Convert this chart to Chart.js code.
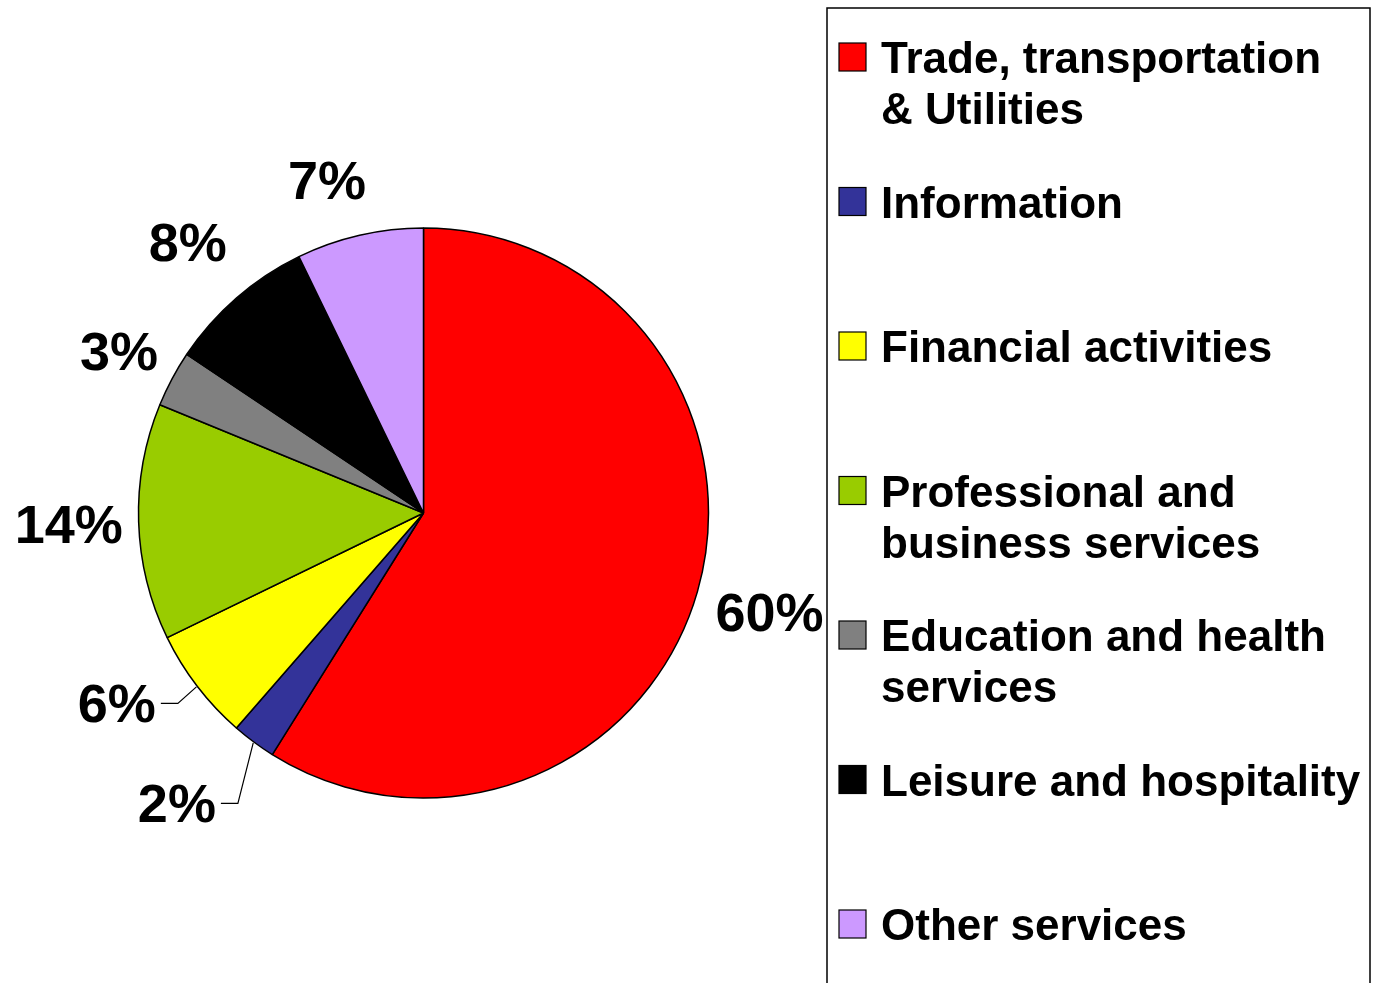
<!DOCTYPE html>
<html>
<head>
<meta charset="utf-8">
<script src="https://cdn.jsdelivr.net/npm/chart.js@4/dist/chart.umd.min.js"></script>
<style>
  html, body { margin: 0; padding: 0; background: #fff; }
  #wrap { width: 1378px; height: 983px; position: relative; }
</style>
</head>
<body>
<div id="wrap"><canvas id="pie"></canvas></div>
<script>
// Data (share of each sector, clockwise from 12 o'clock)
const categories = [
    ['Trade, transportation', '& Utilities'],
    'Information',
    'Financial activities',
    ['Professional and', 'business services'],
    ['Education and health', 'services'],
    'Leisure and hospitality',
    'Other services'
];
const shares = [58.9, 2.5, 6.4, 13.4, 3.2, 8.4, 7.2];
const pctLabels = ['60%', '2%', '6%', '14%', '3%', '8%', '7%'];
const colors = ['#FF0000', '#333399', '#FFFF00', '#99CC00', '#808080', '#000000', '#CC99FF'];

const FONT = '"Liberation Sans", Arial, sans-serif';

// where each percentage sits: angle shift (deg) and distance past the rim
const labelLayout = [
    { gap: 75 },
    { shift: 3.8, gap: 96, leader: true },
    { shift: 5.6, gap: 76, leader: true },
    { gap: 70 },
    { gap: 60 },
    { gap: 74 },
    { shift: -3.2, gap: 62 }
];

// Percent labels + leader lines
const pctPlugin = {
    id: 'pctLabels',
    afterDatasetsDraw(chart) {
        const ctx = chart.ctx;
        const meta = chart.getDatasetMeta(0);
        ctx.save();
        ctx.font = 'bold 54px ' + FONT;
        ctx.fillStyle = '#000';
        ctx.textAlign = 'center';
        ctx.textBaseline = 'alphabetic';
        meta.data.forEach((arc, i) => {
            const p = arc.getProps(['x', 'y', 'startAngle', 'endAngle', 'outerRadius'], true);
            const mid = (p.startAngle + p.endAngle) / 2;
            const lay = labelLayout[i] || {};
            const a = mid + (lay.shift || 0) * Math.PI / 180;
            const r = p.outerRadius + (lay.gap || 70);
            const lx = p.x + Math.cos(a) * r;
            const ly = p.y + Math.sin(a) * r;
            ctx.fillText(pctLabels[i], lx, ly + 19);

            if (lay.leader) {
                const w = ctx.measureText(pctLabels[i]).width;
                const sx = lx + w / 2 + 5;
                const ex = p.x + Math.cos(mid) * (p.outerRadius + 1);
                const ey = p.y + Math.sin(mid) * (p.outerRadius + 1);
                ctx.beginPath();
                ctx.strokeStyle = '#000';
                ctx.lineWidth = 1.2;
                ctx.moveTo(sx, ly);
                ctx.lineTo(sx + 17, ly);
                ctx.lineTo(ex, ey);
                ctx.stroke();
            }
        });
        ctx.restore();
    }
};

// Boxed legend on the right
const legendPlugin = {
    id: 'boxLegend',
    afterDraw(chart) {
        const ctx = chart.ctx;
        const labels = chart.data.labels;
        const bg = chart.data.datasets[0].backgroundColor;
        ctx.save();
        ctx.strokeStyle = '#000';
        ctx.lineWidth = 1.5;
        ctx.strokeRect(827, 8, 543, 1000);

        ctx.font = 'bold 44px ' + FONT;
        ctx.fillStyle = '#000';
        ctx.textAlign = 'left';
        ctx.textBaseline = 'alphabetic';
        labels.forEach((lab, i) => {
            const base = 73 + i * 144.5;
            ctx.fillStyle = bg[i];
            ctx.fillRect(839, base - 30, 27, 28);
            ctx.lineWidth = 1.2;
            ctx.strokeStyle = '#000';
            ctx.strokeRect(839, base - 30, 27, 28);
            ctx.fillStyle = '#000';
            const lines = Array.isArray(lab) ? lab : [lab];
            lines.forEach((ln, k) => ctx.fillText(ln, 881, base + k * 51));
        });
        ctx.restore();
    }
};

new Chart(document.getElementById('pie'), {
    type: 'pie',
    data: {
        labels: categories,
        datasets: [{
            data: shares,
            backgroundColor: colors,
            borderColor: '#000',
            borderWidth: 1.5,
            hoverOffset: 0
        }]
    },
    options: {
        responsive: true,
        maintainAspectRatio: false,
        animation: false,
        radius: 285,
        layout: {
            padding: { left: 0, right: 531, top: 43, bottom: 0 }
        },
        plugins: {
            legend: { display: false },
            tooltip: { enabled: false }
        }
    },
    plugins: [pctPlugin, legendPlugin]
});
</script>
</body>
</html>
